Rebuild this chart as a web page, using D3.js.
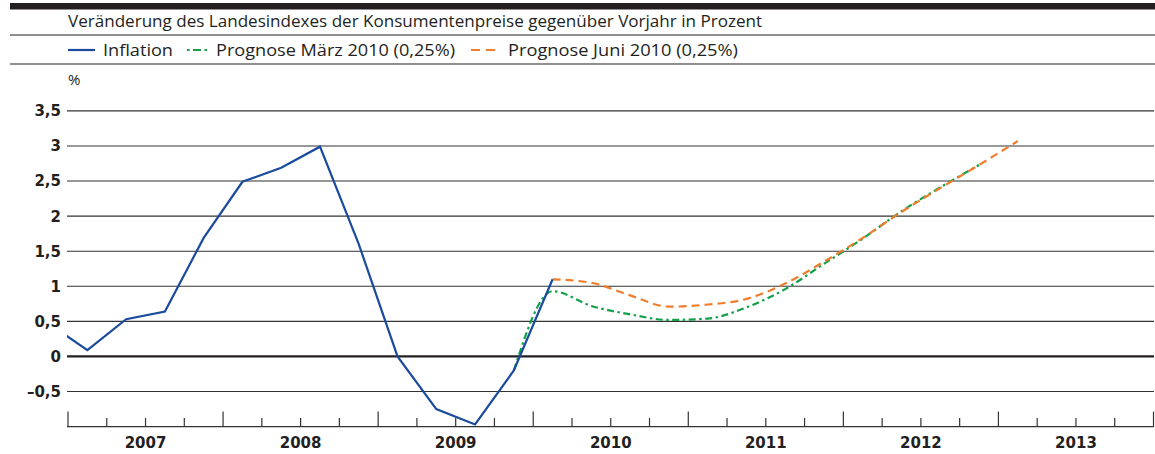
<!DOCTYPE html>
<html>
<head>
<meta charset="utf-8">
<script src="https://cdn.jsdelivr.net/npm/d3@7"></script>
<style>
  html, body { margin: 0; padding: 0; background: #fff; }
  svg { display: block; }
</style>
</head>
<body>
<svg id="chart" width="1155" height="454"></svg>
<script>
// ---------------- DATA ----------------
const titleText = "Veränderung des Landesindexes der Konsumentenpreise gegenüber Vorjahr in Prozent";
const legendLabels = ["Inflation", "Prognose März 2010 (0,25%)", "Prognose Juni 2010 (0,25%)"];
const yTickValues = [-0.5, 0, 0.5, 1, 1.5, 2, 2.5, 3, 3.5];
const yTickLabels = ["–0,5", "0", "0,5", "1", "1,5", "2", "2,5", "3", "3,5"];
const yearLabels = ["2007", "2008", "2009", "2010", "2011", "2012", "2013"];

const inflationQuarters = ["2006Q4","2007Q1","2007Q2","2007Q3","2007Q4","2008Q1","2008Q2","2008Q3","2008Q4","2009Q1","2009Q2","2009Q3","2009Q4","2010Q1"];
const inflationValues   = [0.47, 0.09, 0.53, 0.64, 1.69, 2.49, 2.69, 2.99, 1.60, 0.00, -0.75, -0.97, -0.20, 1.10];

const marchQuarters = ["2009Q4","2010Q1","2010Q2","2010Q3","2010Q4","2011Q1","2011Q2","2011Q3","2011Q4","2012Q1","2012Q2","2012Q3","2012Q4"];
const marchValues   = [-0.20, 0.93, 0.72, 0.60, 0.52, 0.54, 0.70, 0.96, 1.32, 1.68, 2.07, 2.41, 2.73];

const juneQuarters = ["2010Q1","2010Q2","2010Q3","2010Q4","2011Q1","2011Q2","2011Q3","2011Q4","2012Q1","2012Q2","2012Q3","2012Q4","2013Q1"];
const juneValues   = [1.10, 1.05, 0.87, 0.71, 0.74, 0.82, 1.04, 1.35, 1.69, 2.06, 2.40, 2.73, 3.07];

// ---------------- LAYOUT ----------------
const svg = d3.select("#chart");
const W = 1155;
const plotLeft = 67, plotRight = 1154;
const colBlue = "#1a4b9c", colGreen = "#14a04a", colOrange = "#f07d2c";
const textFont = "'Open Sans', 'Noto Sans', sans-serif";
const numFont = "'DejaVu Sans', sans-serif";

const qToNum = q => +q.slice(0, 4) + (+q.slice(5) - 0.5) / 4;

const x = d3.scaleLinear().domain([2007, 2014]).range([68, 1153.5]);
const y = d3.scaleLinear().domain([-1, 3.5]).range([426.6, 110.9]);

// header
svg.append("rect").attr("x", 10).attr("y", 3).attr("width", W - 10).attr("height", 6.5).attr("fill", "#231f20");
svg.append("text").attr("x", 68).attr("y", 27).attr("font-family", textFont).attr("font-size", 16)
  .attr("fill", "#231f20").attr("textLength", 694).attr("lengthAdjust", "spacingAndGlyphs").text(titleText);
svg.append("line").attr("x1", 10).attr("x2", W).attr("y1", 35).attr("y2", 35).attr("stroke", "#231f20").attr("stroke-width", 1.2);

// legend
const legY = 50;
svg.append("line").attr("x1", 68).attr("x2", 95).attr("y1", legY).attr("y2", legY).attr("stroke", colBlue).attr("stroke-width", 2.2);
svg.append("line").attr("x1", 187).attr("x2", 209).attr("y1", legY).attr("y2", legY).attr("stroke", colGreen).attr("stroke-width", 2.2)
  .attr("stroke-dasharray", "2.5,3.5,8,3.5,2.5,10");
svg.append("line").attr("x1", 471).attr("x2", 495).attr("y1", legY).attr("y2", legY).attr("stroke", colOrange).attr("stroke-width", 2.2)
  .attr("stroke-dasharray", "9,6");
const legX = [103, 216, 508], legW = [70, 239, 230];
legendLabels.forEach((t, i) => {
  svg.append("text").attr("x", legX[i]).attr("y", 56).attr("font-family", textFont).attr("font-size", 16)
    .attr("fill", "#231f20").attr("textLength", legW[i]).attr("lengthAdjust", "spacingAndGlyphs").text(t);
});
svg.append("line").attr("x1", 10).attr("x2", W).attr("y1", 64).attr("y2", 64).attr("stroke", "#231f20").attr("stroke-width", 1.2);

// % unit
svg.append("text").attr("x", 68).attr("y", 85).attr("font-family", textFont).attr("font-size", 15).attr("fill", "#231f20").text("%");

// gridlines
const grid = svg.append("g");
yTickValues.forEach((v, i) => {
  grid.append("line").attr("x1", plotLeft).attr("x2", plotRight).attr("y1", y(v)).attr("y2", y(v))
    .attr("stroke", v === 0 ? "#231f20" : "#333").attr("stroke-width", v === 0 ? 2.2 : 1.1);
  svg.append("text").attr("x", 61).attr("y", y(v)).attr("dy", "0.36em").attr("text-anchor", "end")
    .attr("font-family", numFont).attr("font-weight", "bold").attr("font-size", 15).attr("fill", "#231f20")
    .text(yTickLabels[i]);
});

// x axis baseline and ticks
const yBase = y(-1);
svg.append("line").attr("x1", plotLeft).attr("x2", plotRight).attr("y1", yBase).attr("y2", yBase).attr("stroke", "#333").attr("stroke-width", 1.3);
const quarterTicks = d3.range(0, 29).map(k => 2007 + k / 4);
quarterTicks.forEach(t => {
  const major = Math.abs(t - Math.round(t)) < 1e-9;
  svg.append("line").attr("x1", x(t)).attr("x2", x(t)).attr("y1", yBase - (major ? 15 : 8.5)).attr("y2", yBase)
    .attr("stroke", "#333").attr("stroke-width", 1.2);
});
yearLabels.forEach(yl => {
  svg.append("text").attr("x", x(+yl + 0.5)).attr("y", 448).attr("text-anchor", "middle")
    .attr("font-family", numFont).attr("font-weight", "bold").attr("font-size", 15).attr("fill", "#231f20").text(yl);
});

// clip
svg.append("clipPath").attr("id", "plotclip").append("rect")
  .attr("x", plotLeft).attr("y", 90).attr("width", plotRight - plotLeft).attr("height", 345);

const lineLinear = d3.line().x(d => x(qToNum(d.q))).y(d => y(d.v));
const lineSmooth = d3.line().x(d => x(qToNum(d.q))).y(d => y(d.v)).curve(d3.curveMonotoneX);

const zip = (qs, vs) => qs.map((q, i) => ({ q, v: vs[i] }));
const plot = svg.append("g").attr("clip-path", "url(#plotclip)");

plot.append("path").attr("d", lineSmooth(zip(marchQuarters, marchValues))).attr("fill", "none")
  .attr("stroke", colGreen).attr("stroke-width", 2.2).attr("stroke-dasharray", "7,3.5,2.5,3.5");
plot.append("path").attr("d", lineSmooth(zip(juneQuarters, juneValues))).attr("fill", "none")
  .attr("stroke", colOrange).attr("stroke-width", 2.2).attr("stroke-dasharray", "8,5");
plot.append("path").attr("d", lineLinear(zip(inflationQuarters, inflationValues))).attr("fill", "none")
  .attr("stroke", colBlue).attr("stroke-width", 2.2).attr("stroke-linejoin", "miter");
</script>
</body>
</html>
